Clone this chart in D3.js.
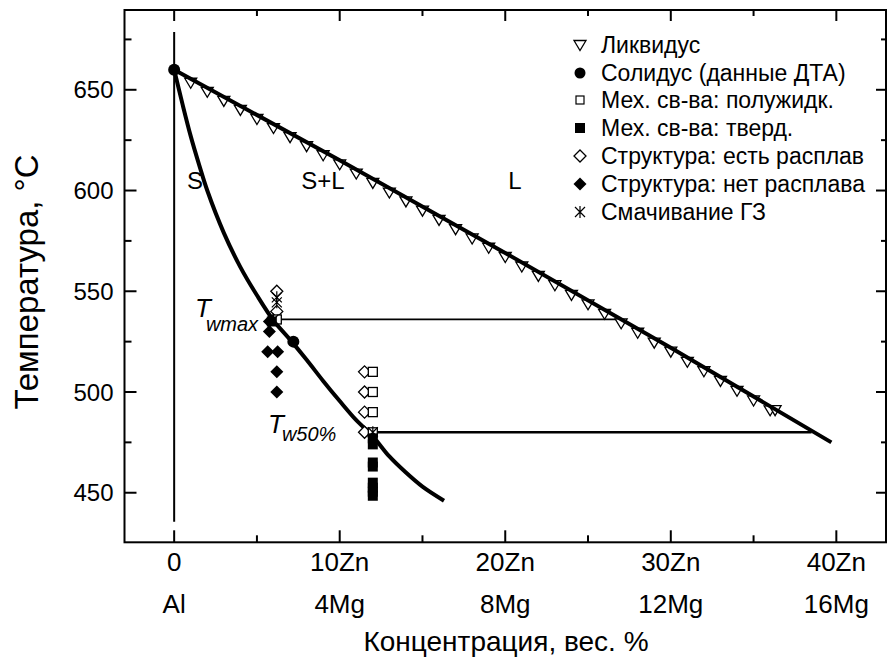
<!DOCTYPE html>
<html><head><meta charset="utf-8">
<script src="https://cdn.jsdelivr.net/npm/d3@7"></script>
<style>
html,body{margin:0;padding:0;background:#fff;}
svg{display:block;font-family:"Liberation Sans",Arial,sans-serif;}
</style></head>
<body><svg id="c" width="888" height="671"></svg>
<script>
// ---- data ----
const liquidusX = [1,2,3,4,5,6,7,8,9,10,11,12,13,14,15,16,17,18,19,20,21,22,23,24,25,26,27,28,29,30,31,32,33,34,35,36,36.3];
const liquidusT = [653.5,649,644.5,640,635.5,631,626.5,622,617.5,613,608.4,603.8,599,594.6,590,585.4,580.8,576.2,571.6,567,562.3,557.6,553,548.2,543.5,538.8,534.1,529.4,524.5,520,515,510.3,505.5,500.6,495.8,490.9,491];
const liqLineX = [0,10,20,30,39.7];
const liqLineT = [660,615,569,522,475];
const solLineX = [0,0.5,1,1.5,2,3,4,5,6,7,8,9,10,11,12,13,14,15,16.3];
const solLineT = [660,643,627,613,600,579,562,548,535.5,526,516,505.5,495.5,486,478,468,460,453,446];
const dtaX = [0,7.2];
const dtaT = [660,525];
const semiX = [6.2,12,12,12,12];
const semiT = [536,510,500,490,480];
const solidX = [5.9,12,12,12,12,12,12,12,12];
const solidT = [535,477,474,465,463,455,452.5,450.5,448.5];
const meltX = [6.2,6.2,11.5,11.5,11.5,11.5];
const meltT = [550,540,510,500,490,480];
const noMeltX = [5.75,5.75,5.65,6.25,6.2,6.2];
const noMeltT = [535,530,520,520,510,500];
const wetX = [6.2,6.2,6.0,12];
const wetT = [547,544.5,536,480];
const twmaxLine = {x:[5.9,26.8], t:[536,536]};
const tw50Line = {x:[12,38.5], t:[480,480]};
const xMajor = [0,10,20,30,40];
const xMinor = [5,15,25,35];
const xLab1 = ["0","10Zn","20Zn","30Zn","40Zn"];
const xLab2 = ["Al","4Mg","8Mg","12Mg","16Mg"];
const yMajor = [450,500,550,600,650];
const yMinor = [475,525,575,625,675];
const legendLabels = ["Ликвидус","Солидус (данные ДТА)","Мех. св-ва: полужидк.","Мех. св-ва: тверд.","Структура: есть расплав","Структура: нет расплава","Смачивание ГЗ"];

// ---- scales ----
const svg = d3.select("#c");
const L=124.5,R=886,T=10,B=542.3;
const x = d3.scaleLinear().domain([-3,43]).range([L,R]);
const y = d3.scaleLinear().domain([425.4,689.6]).range([B,T]);

// symbols
const sym = {
  tri: (g,cx,cy)=>g.append("path").attr("d",`M${cx-6},${cy-4.5}L${cx+6},${cy-4.5}L${cx},${cy+5.5}Z`).attr("fill","#fff").attr("stroke","#000").attr("stroke-width",1.3),
  dot: (g,cx,cy)=>g.append("circle").attr("cx",cx).attr("cy",cy).attr("r",6).attr("fill","#000"),
  osq: (g,cx,cy)=>g.append("rect").attr("x",cx-4.5).attr("y",cy-4.5).attr("width",9).attr("height",9).attr("fill","#fff").attr("stroke","#000").attr("stroke-width",1.3),
  fsq: (g,cx,cy)=>g.append("rect").attr("x",cx-5).attr("y",cy-5).attr("width",10).attr("height",10).attr("fill","#000"),
  odia:(g,cx,cy)=>g.append("path").attr("d",`M${cx},${cy-6}L${cx+6},${cy}L${cx},${cy+6}L${cx-6},${cy}Z`).attr("fill","#fff").attr("stroke","#000").attr("stroke-width",1.3),
  fdia:(g,cx,cy)=>g.append("path").attr("d",`M${cx},${cy-6.5}L${cx+6.5},${cy}L${cx},${cy+6.5}L${cx-6.5},${cy}Z`).attr("fill","#000"),
  ast: (g,cx,cy)=>g.append("path").attr("d",`M${cx},${cy-6}V${cy+6}M${cx-5},${cy-5}L${cx+5},${cy+5}M${cx+5},${cy-5}L${cx-5},${cy+5}`).attr("stroke","#000").attr("stroke-width",1.2).attr("fill","none")
};

// frame
svg.append("rect").attr("x",L).attr("y",T).attr("width",R-L).attr("height",B-T).attr("fill","none").attr("stroke","#000").attr("stroke-width",2);

// ticks (inward on all sides)
const tk = svg.append("g").attr("stroke","#000").attr("stroke-width",2);
xMajor.forEach(v=>{tk.append("line").attr("x1",x(v)).attr("x2",x(v)).attr("y1",B).attr("y2",B-12);
  tk.append("line").attr("x1",x(v)).attr("x2",x(v)).attr("y1",T).attr("y2",T+11);});
xMinor.forEach(v=>{tk.append("line").attr("x1",x(v)).attr("x2",x(v)).attr("y1",B).attr("y2",B-7);
  tk.append("line").attr("x1",x(v)).attr("x2",x(v)).attr("y1",T).attr("y2",T+6);});
yMajor.forEach(v=>{tk.append("line").attr("x1",L).attr("x2",L+12).attr("y1",y(v)).attr("y2",y(v));
  tk.append("line").attr("x1",R).attr("x2",R-10).attr("y1",y(v)).attr("y2",y(v));});
yMinor.forEach(v=>{tk.append("line").attr("x1",L).attr("x2",L+7).attr("y1",y(v)).attr("y2",y(v));
  tk.append("line").attr("x1",R).attr("x2",R-5).attr("y1",y(v)).attr("y2",y(v));});

// tick labels
yMajor.forEach(v=>svg.append("text").attr("x",L-11).attr("y",y(v)).attr("dy","0.36em").attr("text-anchor","end").attr("font-size",24).text(v));
xMajor.forEach((v,i)=>{
  svg.append("text").attr("x",x(v)).attr("y",571).attr("text-anchor","middle").attr("font-size",26).text(xLab1[i]);
  svg.append("text").attr("x",x(v)).attr("y",613).attr("text-anchor","middle").attr("font-size",26).text(xLab2[i]);
});
// axis titles
svg.append("text").attr("transform",`translate(38,${282}) rotate(-90)`).attr("text-anchor","middle").attr("font-size",33).text("Температура, °C");
svg.append("text").attr("x",506).attr("y",651).attr("text-anchor","middle").attr("font-size",28).text("Концентрация, вес. %");

// vertical line at 0
svg.append("line").attr("x1",x(0)).attr("x2",x(0)).attr("y1",y(678.7)).attr("y2",y(435.6)).attr("stroke","#000").attr("stroke-width",2);

// horizontal lines
const ln = d3.line().x(d=>x(d[0])).y(d=>y(d[1]));
svg.append("path").attr("d",ln(twmaxLine.x.map((v,i)=>[v,twmaxLine.t[i]]))).attr("stroke","#000").attr("stroke-width",1.7).attr("fill","none");
svg.append("path").attr("d",ln(tw50Line.x.map((v,i)=>[v,tw50Line.t[i]]))).attr("stroke","#000").attr("stroke-width",2.6).attr("fill","none");

// liquidus triangles
const gm = svg.append("g");
liquidusX.forEach((v,i)=>sym.tri(gm,x(v),y(liquidusT[i])));

// curves
const cl = d3.line().x(d=>x(d[0])).y(d=>y(d[1])).curve(d3.curveMonotoneX);
svg.append("path").attr("d",cl(liqLineX.map((v,i)=>[v,liqLineT[i]]))).attr("stroke","#000").attr("stroke-width",4).attr("fill","none");
const cs = d3.line().x(d=>x(d[0])).y(d=>y(d[1])).curve(d3.curveCatmullRom);
svg.append("path").attr("d",cs(solLineX.map((v,i)=>[v,solLineT[i]]))).attr("stroke","#000").attr("stroke-width",4).attr("fill","none");

// markers
const g2 = svg.append("g");
meltX.forEach((v,i)=>sym.odia(g2,x(v),y(meltT[i])));
semiX.forEach((v,i)=>sym.osq(g2,x(v),y(semiT[i])));
solidX.forEach((v,i)=>sym.fsq(g2,x(v),y(solidT[i])));
noMeltX.forEach((v,i)=>sym.fdia(g2,x(v),y(noMeltT[i])));
wetX.forEach((v,i)=>sym.ast(g2,x(v),y(wetT[i])));
dtaX.forEach((v,i)=>sym.dot(g2,x(v),y(dtaT[i])));

// region labels
svg.append("text").attr("x",195).attr("y",189).attr("text-anchor","middle").attr("font-size",24).text("S");
svg.append("text").attr("x",323).attr("y",189).attr("text-anchor","middle").attr("font-size",24).text("S+L");
svg.append("text").attr("x",515).attr("y",189).attr("text-anchor","middle").attr("font-size",24).text("L");

// T labels
const t1 = svg.append("text").attr("x",195).attr("y",317).attr("font-size",26).attr("font-style","italic");
t1.append("tspan").text("T");
t1.append("tspan").attr("font-size",20).attr("dy",14).attr("dx",-5).text("wmax");
const t2 = svg.append("text").attr("x",268).attr("y",433).attr("font-size",26).attr("font-style","italic");
t2.append("tspan").text("T");
t2.append("tspan").attr("font-size",20).attr("dy",8).attr("dx",-2).text("w50%");

// legend
const legY = [45,73,100,128,156,184,212];
const legSym = ["tri","dot","osq","fsq","odia","fdia","ast"];
legendLabels.forEach((s,i)=>{
  const cy = legY[i];
  if(legSym[i]==="tri") sym.tri(svg,580,cy); else if(legSym[i]==="dot") svg.append("circle").attr("cx",580).attr("cy",cy).attr("r",5.5).attr("fill","#000");
  else if(legSym[i]==="osq") svg.append("rect").attr("x",576).attr("y",cy-4).attr("width",8).attr("height",8).attr("fill","#fff").attr("stroke","#000").attr("stroke-width",1.2);
  else sym[legSym[i]](svg,580,cy);
  svg.append("text").attr("x",601).attr("y",cy).attr("dy","0.36em").attr("font-size",23).text(s);
});
</script></body></html>
